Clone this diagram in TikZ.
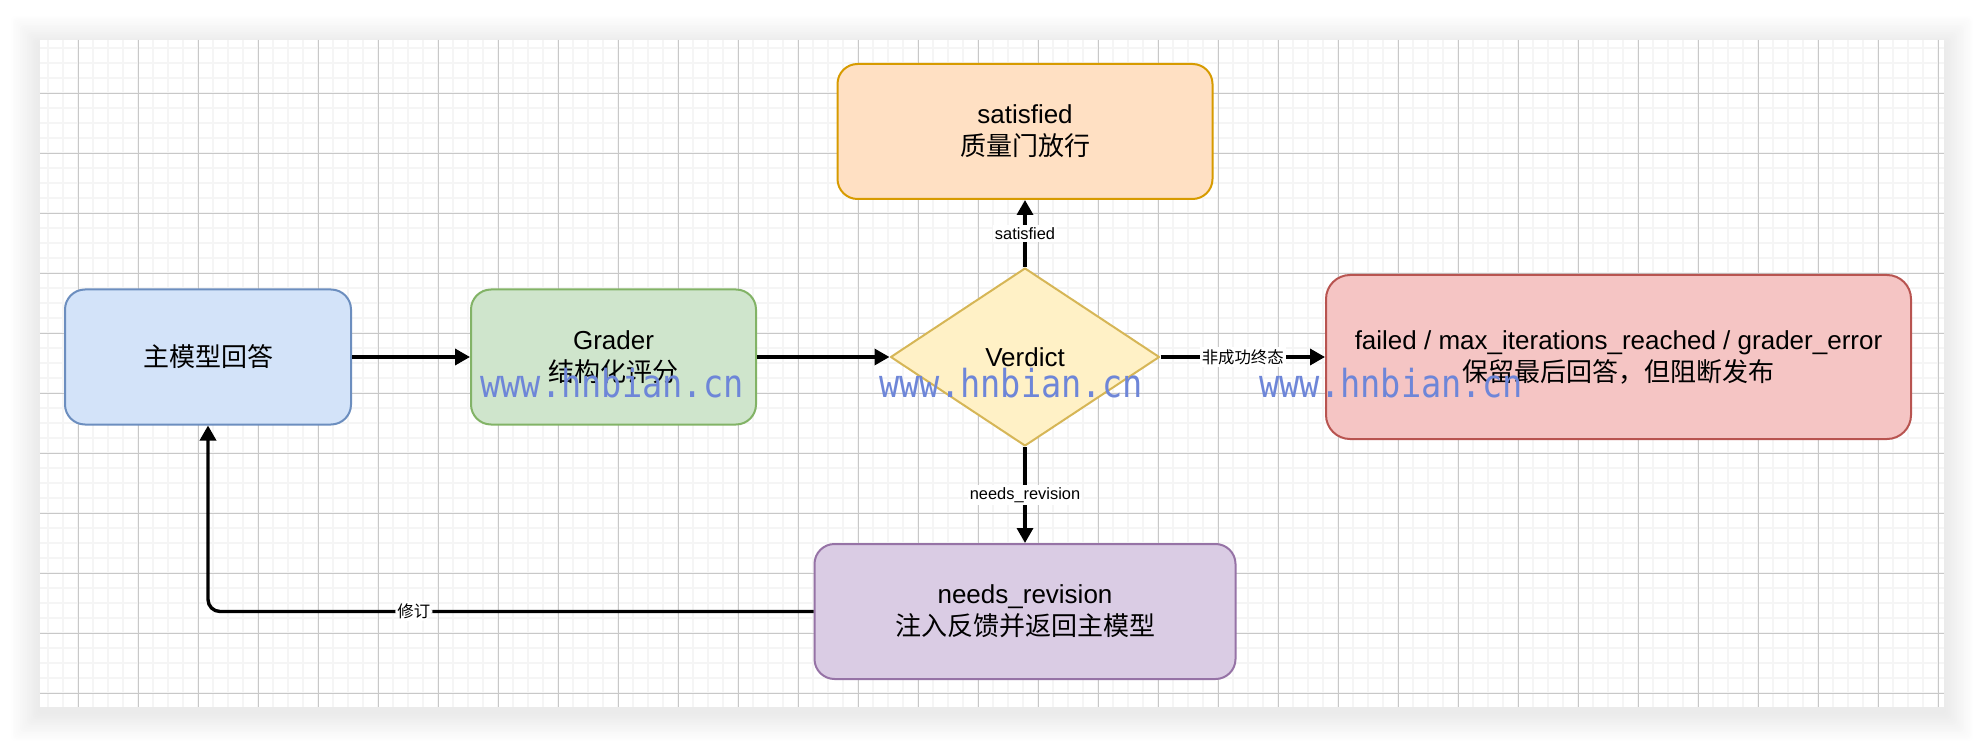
\documentclass[tikz,border=0pt]{standalone}
\usepackage{fontspec}
\usepackage{graphicx}
\setmainfont{Liberation Sans}
\newfontfamily\cjk{Noto Sans CJK SC}
\newfontfamily\wmfont{DejaVu Sans Mono}
\usetikzlibrary{shapes.geometric, arrows.meta}
\usetikzlibrary{positioning}

\begin{document}
\begin{tikzpicture}[x=0.5pt, y=-0.5pt, line join=round,
  box/.style={draw, line width=1pt, rounded corners=10pt, align=center, inner sep=0pt,
    minimum height=67.5pt, font=\fontsize{13}{16}\selectfont},
  flow/.style={line width=1.7pt, -{Triangle[length=7.5pt, width=8pt]}},
  elabel/.style={fill=white, inner sep=1pt, font=\fontsize{8.2}{10}\selectfont},
  wmark/.style={text=WM, anchor=base, font=\wmfont\fontsize{16.8}{18}\selectfont},
  minorgrid/.style={draw=GridMinor, line width=0.6pt},
  majorgrid/.style={draw=GridMajor, line width=0.45pt}]

\definecolor{GridMinor}{HTML}{F5F5F5}
\definecolor{GridMajor}{HTML}{C8C8C8}
\definecolor{WM}{HTML}{6E86D8}
\definecolor{MainFill}{HTML}{D3E3F9}
\definecolor{MainLine}{HTML}{6C8EBF}
\definecolor{GradeFill}{HTML}{CFE5CC}
\definecolor{GradeLine}{HTML}{82B366}
\definecolor{VerdFill}{HTML}{FFF1C6}
\definecolor{VerdLine}{HTML}{D6B656}
\definecolor{SatFill}{HTML}{FFE0C3}
\definecolor{SatLine}{HTML}{D79B00}
\definecolor{FailFill}{HTML}{F5C5C4}
\definecolor{FailLine}{HTML}{B85450}
\definecolor{RevFill}{HTML}{DACCE4}
\definecolor{RevLine}{HTML}{9673A6}

\useasboundingbox (0,0) rectangle (1984,748);
\fill[white] (0,0) rectangle (1984,748);

% canvas with its soft shadow
\foreach \s in {16,15,...,1} {
  \pgfmathsetmacro\shade{(17-\s)*0.5}
  \fill[black!\shade, rounded corners=2pt] (40-1.8*\s,40-1.8*\s+5) rectangle (1944+1.8*\s,707+1.8*\s+5);
}
\fill[white] (40,40) rectangle (1944,707);
\foreach \x in {48,63,...,1943} \draw[minorgrid] (\x,40) -- (\x,707);
\foreach \y in {48,63,...,706} \draw[minorgrid] (40,\y) -- (1944,\y);
\foreach \x in {78,138,...,1943} \draw[majorgrid] (\x,40) -- (\x,707);
\foreach \y in {93,153,...,706} \draw[majorgrid] (40,\y) -- (1944,\y);

\node[box, fill=MainFill, draw=MainLine, minimum width=143pt] (main) at (208,357) {\cjk 主模型回答};
\node[box, fill=GradeFill, draw=GradeLine, minimum width=142.5pt] (grader) at (613.5,357) {Grader\\{\cjk 结构化评分}};
\node[diamond, draw=VerdLine, fill=VerdFill, line width=1pt, inner sep=0pt, minimum width=134.5pt, minimum height=89pt,
  font=\fontsize{13}{16}\selectfont] (verdict) at (1025,357) {Verdict};
\node[box, fill=SatFill, draw=SatLine, minimum width=187.5pt] (sat) at (1025,131.5) {satisfied\\{\cjk 质量门放行}};
\node[box, fill=FailFill, draw=FailLine, minimum width=292.5pt, minimum height=82pt, rounded corners=12pt] (fail) at (1618.5,357)
  {failed / max\_iterations\_reached / grader\_error\\{\cjk 保留最后回答，但阻断发布}};
\node[box, fill=RevFill, draw=RevLine, minimum width=210.5pt] (rev) at (1025,611.5) {needs\_revision\\{\cjk 注入反馈并返回主模型}};

\draw[flow] (main) -- (grader);
\draw[flow] (grader) -- (verdict);
\draw[flow] (verdict) -- node[elabel] {satisfied} (sat);
\draw[flow] (verdict) -- node[elabel] {\cjk 非成功终态} (fail);
\draw[flow] (verdict) -- node[elabel] {needs\_revision} (rev);
\draw[flow, rounded corners=6pt] (rev.west) -| node[elabel, pos=0.33] {\cjk 修订} (main.south);

\node[wmark] (wm1) at (612,397) {\scalebox{1}[1.15]{www.hnbian.cn}};
\node[wmark] (wm2) at (1011,397) {\scalebox{1}[1.15]{www.hnbian.cn}};
\node[wmark] (wm3) at (1391,397) {\scalebox{1}[1.15]{www.hnbian.cn}};

\end{tikzpicture}
\end{document}
